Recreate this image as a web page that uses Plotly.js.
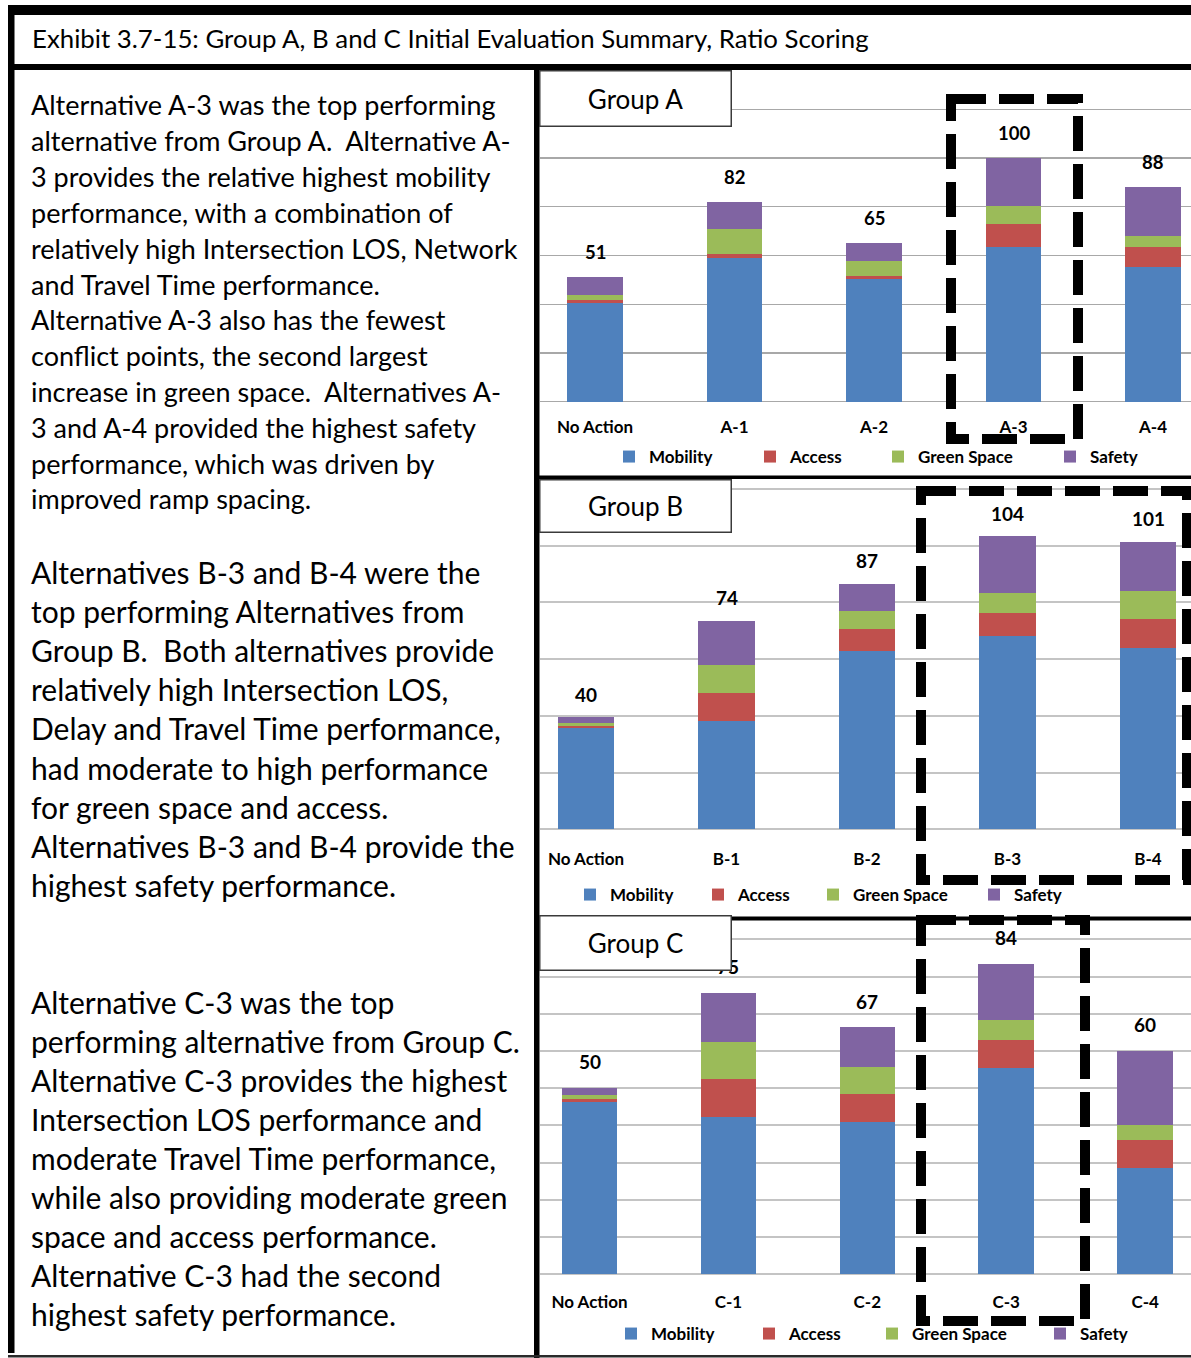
<!DOCTYPE html>
<html><head><meta charset="utf-8">
<script src="https://cdn.plot.ly/plotly-3.0.1.min.js"></script>
<style>html,body{margin:0;padding:0;background:#fff;} #chart{width:1191px;height:1358px;}</style>
</head><body><div id="chart"></div>
<script>
// ---------------- DATA ----------------
const seriesNames = ['Mobility', 'Access', 'Green Space', 'Safety'];
const seriesColors = ['#4f81bd', '#c0504d', '#9bbb59', '#8064a2'];

const catsA = ['No Action', 'A-1', 'A-2', 'A-3', 'A-4'];
const mobilityA = [40.7, 59.1, 50.5, 63.5, 55.3];
const accessA   = [1.2, 1.6, 1.2, 9.5, 8.4];
const greenA    = [1.8, 10.3, 6.0, 7.5, 4.3];
const safetyA   = [7.3, 11.0, 7.3, 19.5, 20.0];
const totalsA   = [51, 82, 65, 100, 88];

const catsB = ['No Action', 'B-1', 'B-2', 'B-3', 'B-4'];
const mobilityB = [35.6, 38.1, 62.8, 68.2, 64.1];
const accessB   = [1.0, 10.1, 8.0, 7.9, 9.9];
const greenB    = [0.9, 9.8, 6.2, 7.2, 10.1];
const safetyB   = [2.0, 15.5, 9.6, 20.0, 17.3];
const totalsB   = [40, 74, 87, 104, 101];

const catsC = ['No Action', 'C-1', 'C-2', 'C-3', 'C-4'];
const mobilityC = [46.2, 42.3, 41.0, 55.3, 28.6];
const accessC   = [1.0, 10.1, 7.4, 7.6, 7.5];
const greenC    = [0.9, 10.0, 7.4, 5.4, 4.0];
const safetyC   = [2.0, 13.3, 10.6, 15.1, 20.0];
const totalsC   = [50, 75, 67, 84, 60];

const titleText = 'Exhibit 3.7-15: Group A, B and C Initial Evaluation Summary, Ratio Scoring';
const block1 = [
  'Alternative A-3 was the top performing',
  'alternative from Group A.  Alternative A-',
  '3 provides the relative highest mobility',
  'performance, with a combination of',
  'relatively high Intersection LOS, Network',
  'and Travel Time performance.',
  'Alternative A-3 also has the fewest',
  'conflict points, the second largest',
  'increase in green space.  Alternatives A-',
  '3 and A-4 provided the highest safety',
  'performance, which was driven by',
  'improved ramp spacing.'
];
const block2 = [
  'Alternatives B-3 and B-4 were the',
  'top performing Alternatives from',
  'Group B.  Both alternatives provide',
  'relatively high Intersection LOS,',
  'Delay and Travel Time performance,',
  'had moderate to high performance',
  'for green space and access.',
  'Alternatives B-3 and B-4 provide the',
  'highest safety performance.'
];
const block3 = [
  'Alternative C-3 was the top',
  'performing alternative from Group C.',
  'Alternative C-3 provides the highest',
  'Intersection LOS performance and',
  'moderate Travel Time performance,',
  'while also providing moderate green',
  'space and access performance.',
  'Alternative C-3 had the second',
  'highest safety performance.'
];

// ---------------- LAYOUT HELPERS ----------------
const W = 1191, H = 1358;
const FONT = 'Lato, "Open Sans", sans-serif';
const px = x => x / W;
const py = y => 1 - y / H;

const groups = [
  {cats: catsA, series: [mobilityA, accessA, greenA, safetyA], totals: totalsA, ax: '', title: 'Group A',
   base: 401.7, ppu: 2.436, rmax: 121, dtick: 20, x0: 595, step: 139.5, grid: '#a8a8a8', gridw: 1.3,
   tick: 17, stand: 12, lab: 18.5, labShift: 25, leg: 17, legY: 457, legX: [649, 790, 918, 1090],
   box: [539, 70, 732, 127], dash: [951, 99, 1078, 439]},
  {cats: catsB, series: [mobilityB, accessB, greenB, safetyB], totals: totalsB, ax: '2', title: 'Group B',
   base: 829.3, ppu: 2.836, rmax: 121, dtick: 20, x0: 586, step: 140.5, grid: '#c4c4c4', gridw: 2,
   tick: 17, stand: 16, lab: 19, labShift: 23, leg: 17, legY: 895, legX: [610, 738, 853, 1014],
   box: [539, 479, 732, 533], dash: [921, 491, 1187, 880]},
  {cats: catsC, series: [mobilityC, accessC, greenC, safetyC], totals: totalsC, ax: '3', title: 'Group C',
   base: 1274.3, ppu: 3.722, rmax: 91, dtick: 10, x0: 589.5, step: 138.9, grid: '#c4c4c4', gridw: 2,
   tick: 17, stand: 14, lab: 19, labShift: 26, leg: 17, legY: 1334, legX: [651, 789, 912, 1080],
   box: [539, 915, 732, 971], dash: [921, 920, 1085, 1321]}
];

const traces = [];
const layout = {
  width: W, height: H,
  margin: {l: 0, r: 0, t: 0, b: 0, autoexpand: false},
  paper_bgcolor: '#ffffff', plot_bgcolor: 'rgba(0,0,0,0)',
  barmode: 'stack', bargap: 0.6,
  font: {family: FONT, color: '#000'},
  annotations: [], shapes: []
};

let legendIdx = 0;
groups.forEach((g, gi) => {
  const xa = 'xaxis' + g.ax, ya = 'yaxis' + g.ax;
  const xr = 'x' + g.ax, yr = 'y' + g.ax;
  const r0 = -0.5;
  const bottomPx = g.base - r0 * g.ppu;
  const topPx = g.base - g.rmax * g.ppu;
  layout[xa] = {
    domain: [px(540), 1], anchor: yr, type: 'category',
    range: [(540 - g.x0) / g.step, (W - g.x0) / g.step],
    showgrid: false, zeroline: false, showline: false,
    ticks: '', ticklabelstandoff: g.stand,
    tickfont: {family: FONT, size: g.tick, color: '#000', weight: 'bold'},
    fixedrange: true
  };
  layout[ya] = {
    domain: [py(bottomPx), py(topPx)], anchor: xr,
    range: [r0, g.rmax], dtick: g.dtick, tick0: 0,
    showticklabels: false, ticks: '',
    showgrid: true, gridcolor: g.grid, gridwidth: g.gridw,
    zeroline: true, zerolinecolor: g.grid, zerolinewidth: g.gridw,
    showline: false, fixedrange: true
  };
  g.series.forEach((vals, si) => {
    legendIdx++;
    const legName = legendIdx === 1 ? 'legend' : 'legend' + legendIdx;
    traces.push({
      type: 'bar', x: g.cats, y: vals, name: seriesNames[si],
      xaxis: xr, yaxis: yr, width: 0.4,
      marker: {color: seriesColors[si], line: {width: 0}},
      legend: legName, showlegend: true, hoverinfo: 'skip'
    });
    layout[legName] = {
      x: px(g.legX[si] - 40), y: py(g.legY), xanchor: 'left', yanchor: 'middle',
      orientation: 'h', bgcolor: 'rgba(0,0,0,0)', borderwidth: 0, itemwidth: 30,
      font: {family: FONT, size: g.leg, color: '#000', weight: 'bold'}
    };
  });
  // total labels
  g.cats.forEach((c, i) => {
    const sum = g.series.reduce((s, arr) => s + arr[i], 0);
    layout.annotations.push({
      x: c, y: sum, xref: xr, yref: yr, text: String(g.totals[i]),
      showarrow: false, yanchor: 'middle', yshift: g.labShift,
      font: {family: FONT, size: g.lab, color: '#000', weight: 'bold'}
    });
  });
  // dashed highlight rectangle
  layout.shapes.push({
    type: 'rect', xref: 'paper', yref: 'paper', layer: 'above',
    x0: px(g.dash[0]), x1: px(g.dash[2]), y0: py(g.dash[1]), y1: py(g.dash[3]),
    line: {color: '#000', width: 10, dash: '35px,13px'}, fillcolor: 'rgba(0,0,0,0)'
  });
});

// frame lines
function blk(x0, y0, x1, y1, col) {
  layout.shapes.push({type: 'rect', xref: 'paper', yref: 'paper', layer: 'above',
    x0: px(x0), x1: px(x1), y0: py(y1), y1: py(y0), fillcolor: col || '#000', line: {width: 0}});
}
blk(8, 5, W, 15);          // top band
blk(8, 5, 14.5, 1353);     // left border
blk(8, 64, W, 70);         // header separator
blk(534, 64, 539.5, H);    // vertical divider
blk(539, 475.5, W, 479);   // A/B separator
blk(539, 916.5, W, 920.5); // B/C separator
blk(8, 1355, W, 1357.5, '#2a2a2a'); // bottom line

// group title boxes (drawn as annotations on top)
groups.forEach(g => {
  const [x0, y0, x1, y1] = g.box;
  layout.annotations.push({
    xref: 'paper', yref: 'paper', x: px((x0 + x1) / 2), y: py((y0 + y1) / 2),
    xanchor: 'center', yanchor: 'middle', showarrow: false,
    text: g.title, width: x1 - x0 - 3, height: y1 - y0 - 3, borderpad: 0,
    bgcolor: '#ffffff', bordercolor: '#3a3a3a', borderwidth: 1.5,
    font: {family: FONT, size: 26, color: '#000'}
  });
});

// title
layout.annotations.push({
  xref: 'paper', yref: 'paper', x: px(30), y: py(38), xanchor: 'left', yanchor: 'middle',
  showarrow: false, text: titleText, font: {family: FONT, size: 25.8, color: '#000'}
});

// left text blocks
function addBlock(lines, y0, step, size) {
  lines.forEach((t, i) => {
    layout.annotations.push({
      xref: 'paper', yref: 'paper', x: px(28.5), y: py(y0 + i * step), xanchor: 'left', yanchor: 'middle',
      showarrow: false, text: t, font: {family: FONT, size: size, color: '#000'}
    });
  });
}
addBlock(block1, 105, 35.8, 27);
addBlock(block2, 572, 39.1, 30);
addBlock(block3, 1002, 39.0, 30);

Plotly.newPlot('chart', traces, layout, {staticPlot: true, displayModeBar: false});
</script>
</body></html>
